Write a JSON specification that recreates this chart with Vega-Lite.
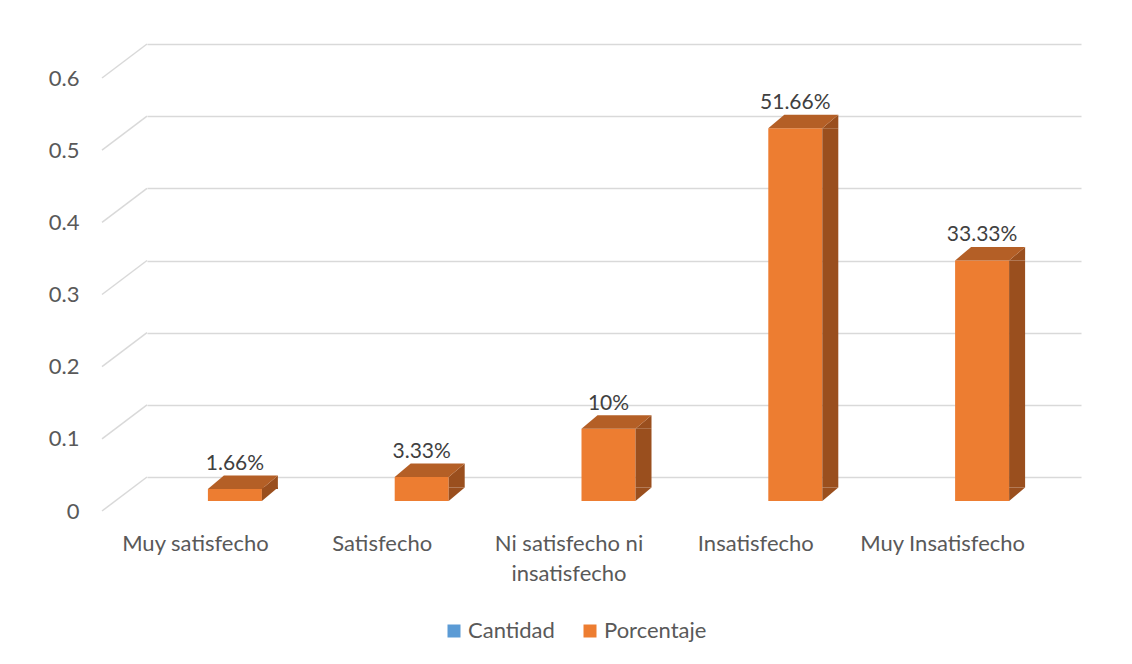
{
  "$schema": "https://vega.github.io/schema/vega-lite/v6.json",
  "width": 934,
  "height": 433,
  "autosize": {"type": "none"},
  "padding": {"left": 147, "top": 44, "right": 51, "bottom": 187},
  "background": "white",
  "datasets": {
    "respuestas": [
      {"categoria": "Muy satisfecho", "serie": "Porcentaje", "valor": 0.0166},
      {"categoria": "Satisfecho", "serie": "Porcentaje", "valor": 0.0333},
      {"categoria": "Ni satisfecho ni insatisfecho", "serie": "Porcentaje", "valor": 0.10},
      {"categoria": "Insatisfecho", "serie": "Porcentaje", "valor": 0.5166},
      {"categoria": "Muy Insatisfecho", "serie": "Porcentaje", "valor": 0.3333}
    ],
    "grilla": [
      {"nivel": 0}, {"nivel": 0.1}, {"nivel": 0.2}, {"nivel": 0.3},
      {"nivel": 0.4}, {"nivel": 0.5}, {"nivel": 0.6}
    ]
  },
  "config": {
    "view": {"stroke": null},
    "font": "Lato",
    "axis": {"domain": false, "ticks": false, "labelFont": "Lato", "labelFontSize": 22, "labelColor": "#595959"},
    "axisY": {"gridColor": "#d9d9d9", "gridWidth": 1.5, "labelOffset": 34, "labelPadding": 68, "labelFlush": false, "labelOverlap": false},
    "axisX": {"labelOffset": -45, "labelPadding": 73, "labelBaseline": "alphabetic", "labelLineHeight": 30, "labelAngle": 0, "labelLimit": 300, "grid": false},
    "legend": {"labelFont": "Lato", "labelFontSize": 22, "labelColor": "#595959", "symbolType": "square", "symbolSize": 169, "symbolStrokeWidth": 0, "labelOffset": 3, "columnPadding": 24, "padding": 0}
  },
  "layer": [
    {
      "data": {"name": "grilla"},
      "mark": {"type": "rule", "color": "#d9d9d9", "strokeWidth": 1.5, "xOffset": -45, "yOffset": 34, "x2Offset": 0, "y2Offset": 0},
      "encoding": {
        "x": {"datum": "Muy satisfecho", "type": "nominal", "bandPosition": 0, "title": null},
        "x2": {"datum": "Muy satisfecho", "bandPosition": 0},
        "y": {
          "field": "nivel", "type": "quantitative", "title": null,
          "axis": {"format": ".1~f", "values": [0, 0.1, 0.2, 0.3, 0.4, 0.5, 0.6], "tickCount": 7}
        },
        "y2": {"field": "nivel"}
      }
    },
    {
      "data": {"name": "respuestas"},
      "mark": {"type": "bar", "width": 54, "xOffset": -5.5, "yOffset": 24, "y2Offset": 24},
      "encoding": {
        "x": {
          "field": "categoria", "type": "nominal", "sort": null, "title": null,
          "scale": {"type": "band", "paddingInner": 0, "paddingOuter": 0},
          "axis": {"labelExpr": "datum.label == 'Ni satisfecho ni insatisfecho' ? ['Ni satisfecho ni', 'insatisfecho'] : datum.label"}
        },
        "y": {
          "field": "valor", "type": "quantitative", "title": null,
          "scale": {"domain": [0, 0.6], "nice": false},
          "axis": {"format": ".1~f", "values": [0, 0.1, 0.2, 0.3, 0.4, 0.5, 0.6], "tickCount": 7}
        },
        "y2": {"datum": 0},
        "color": {
          "field": "serie", "type": "nominal",
          "scale": {"domain": ["Cantidad", "Porcentaje"], "range": ["#5b9bd5", "#ed7d31"]},
          "legend": {"title": null, "orient": "none", "legendX": 296, "legendY": 576, "direction": "horizontal"}
        }
      }
    },
    {
      "data": {"name": "respuestas"},
      "mark": {"type": "bar", "width": 16, "xOffset": 29.5, "yOffset": 24, "y2Offset": 10.5, "color": "#9a4f1e"},
      "encoding": {
        "x": {"field": "categoria", "type": "nominal", "sort": null, "title": null},
        "y": {"field": "valor", "type": "quantitative", "title": null},
        "y2": {"datum": 0}
      }
    },
    {
      "data": {"name": "respuestas"},
      "mark": {"type": "point", "shape": "M27,0L43,-13.5L43,0Z", "size": 4, "filled": true, "opacity": 1, "strokeWidth": 0, "color": "#9a4f1e", "xOffset": -5.5, "yOffset": 24},
      "encoding": {
        "x": {"field": "categoria", "type": "nominal", "sort": null, "title": null},
        "y": {"field": "valor", "type": "quantitative", "title": null}
      }
    },
    {
      "data": {"name": "respuestas"},
      "mark": {"type": "point", "shape": "M27,-13.5L43,-13.5L27,0Z", "size": 4, "filled": true, "opacity": 1, "strokeWidth": 0, "color": "#9a4f1e", "xOffset": -5.5, "yOffset": 24},
      "encoding": {
        "x": {"field": "categoria", "type": "nominal", "sort": null, "title": null},
        "y": {"datum": 0, "type": "quantitative", "title": null}
      }
    },
    {
      "data": {"name": "respuestas"},
      "mark": {"type": "point", "shape": "M-27,0L27,0L43,-13.5L-11,-13.5Z", "size": 4, "filled": true, "opacity": 1, "strokeWidth": 0, "color": "#b45f26", "xOffset": -5.5, "yOffset": 24},
      "encoding": {
        "x": {"field": "categoria", "type": "nominal", "sort": null, "title": null},
        "y": {"field": "valor", "type": "quantitative", "title": null}
      }
    },
    {
      "data": {"name": "respuestas"},
      "mark": {"type": "text", "font": "Lato", "fontSize": 21, "color": "#404040", "baseline": "middle", "align": "center", "xOffset": -5.5, "yOffset": -1},
      "encoding": {
        "x": {"field": "categoria", "type": "nominal", "sort": null, "title": null},
        "y": {"field": "valor", "type": "quantitative", "title": null},
        "text": {"field": "valor", "type": "quantitative", "format": ".2~%"}
      }
    }
  ]
}
